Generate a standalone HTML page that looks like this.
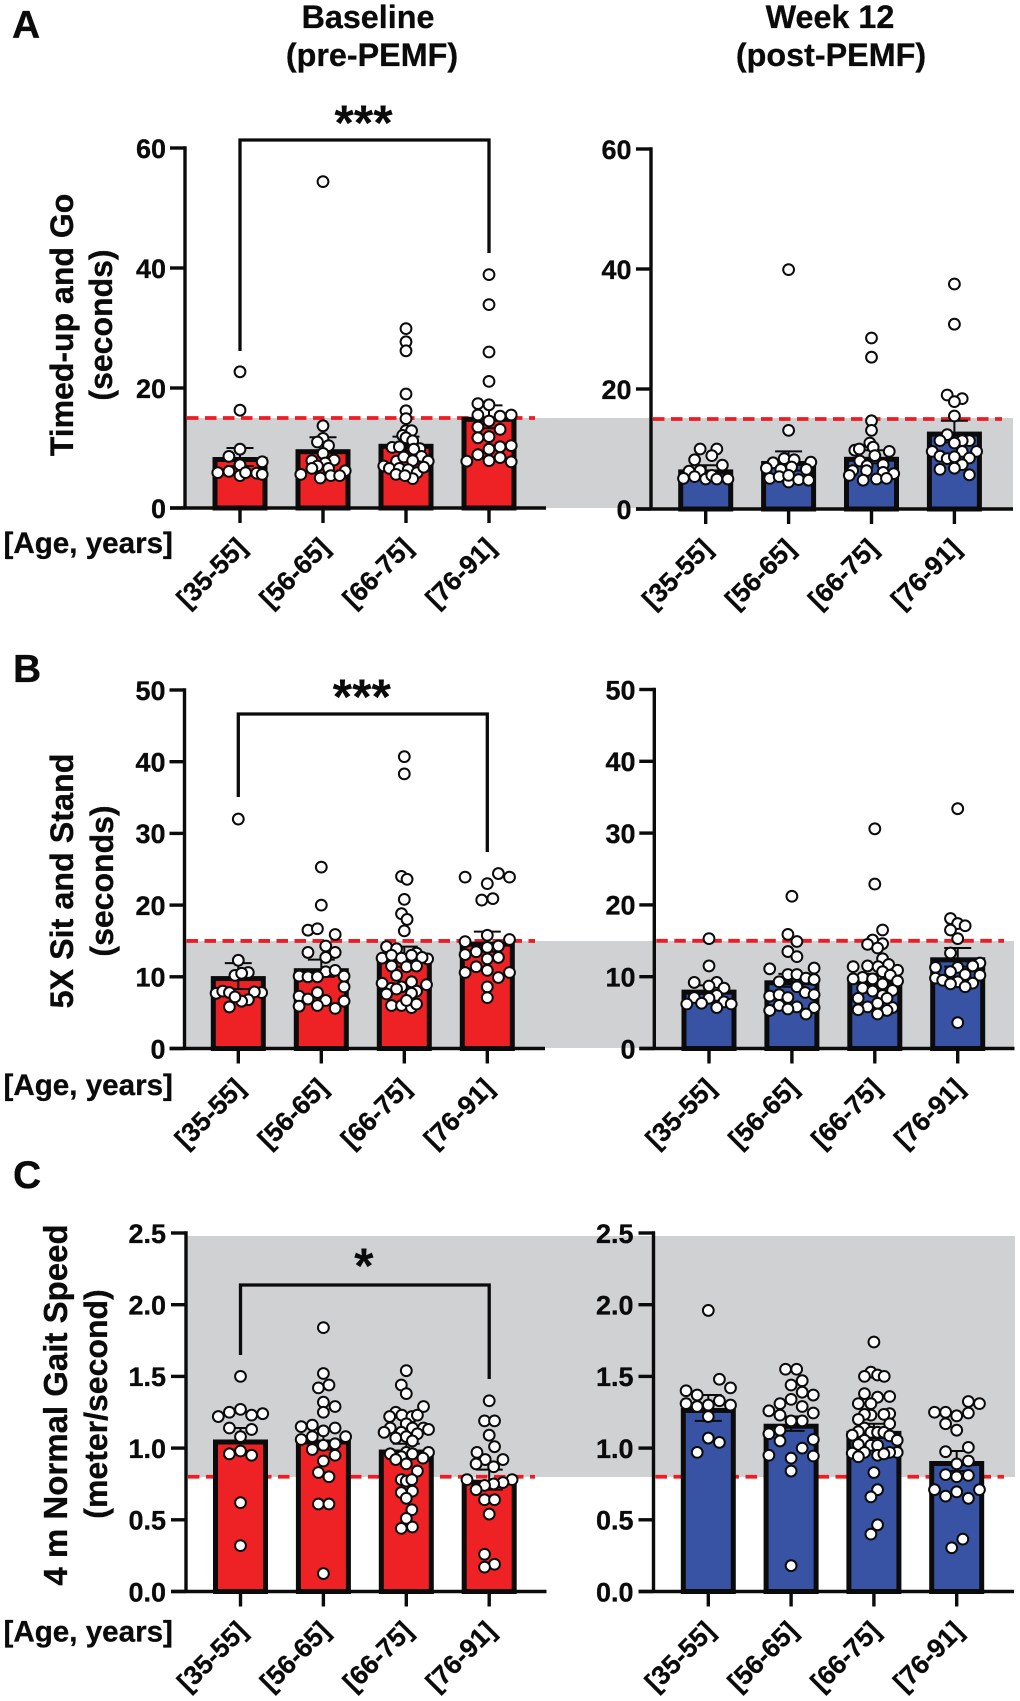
<!DOCTYPE html>
<html lang="en">
<head>
<meta charset="utf-8">
<title>Functional performance by age group, baseline and week 12</title>
<style>
html,body{margin:0;padding:0;background:#fff;}
svg{display:block;font-family:"Liberation Sans",Arial,sans-serif;font-weight:bold;fill:#0b0b0b;}
text{stroke:#0b0b0b;stroke-width:0.3px;}
</style>
</head>
<body>
<svg id="chart" xmlns="http://www.w3.org/2000/svg" width="1020" height="1701" viewBox="0 0 1020 1701">
  <rect x="0" y="0" width="1020" height="1701" fill="#fff"/>
  <rect x="186" y="418" width="827" height="90" fill="#d0d1d3"/>
  <rect x="186" y="941" width="828" height="107" fill="#d0d1d3"/>
  <rect x="186" y="1236" width="829" height="241" fill="#d0d1d3"/>
  <g id="plots"></g>
  <text x="12" y="38" font-size="39">A</text>
  <text x="13" y="682" font-size="39">B</text>
  <text x="13" y="1188" font-size="39">C</text>
  <text text-anchor="middle" font-size="32.3" x="368" y="28">Baseline</text>
  <text text-anchor="middle" font-size="32.3" x="372" y="66">(pre-PEMF)</text>
  <text text-anchor="middle" font-size="32.3" x="830" y="28">Week 12</text>
  <text text-anchor="middle" font-size="32.3" x="831" y="66">(post-PEMF)</text>
  <text text-anchor="middle" font-size="32" transform="translate(73,325) rotate(-90)">Timed-up and Go</text>
  <text text-anchor="middle" font-size="32" transform="translate(112,325) rotate(-90)">(seconds)</text>
  <text text-anchor="middle" font-size="32.3" transform="translate(73,881) rotate(-90)">5X Sit and Stand</text>
  <text text-anchor="middle" font-size="32" transform="translate(113,881) rotate(-90)">(seconds)</text>
  <text text-anchor="middle" font-size="33" transform="translate(67,1405) rotate(-90)">4 m Normal Gait Speed</text>
  <text text-anchor="middle" font-size="32" transform="translate(107,1404) rotate(-90)">(meter/second)</text>
  <text font-size="29.6" x="3.5" y="553">[Age, years]</text>
  <text font-size="29.6" x="3.5" y="1095">[Age, years]</text>
  <text font-size="29.6" x="3.5" y="1641.500">[Age, years]</text>
</svg>
<script>
const categories = ['[35-55]', '[56-65]', '[66-75]', '[76-91]'];

const secondsTicksA = [0, 20, 40, 60];
const secondsTicksB = [0, 10, 20, 30, 40, 50];
const speedTicks = [0, 0.5, 1, 1.5, 2, 2.5];

const tugBaseMeans = [8.5, 9.8, 10.7, 15.2];
const tugBaseSem = [1.5, 2.0, 1.2, 1.9];
const tugBaseValues = [
  [22.7,16.3,9.8,8.6,7.7,7.2,5.9,6.1,5.4,5.9,5.8,5.6],
  [54.4,13.7,11.6,11,10.4,9.1,7.9,8,7.5,7,6.6,6.6,5.6,6.2,5,5.4,5.4],
  [29.9,27.7,26.2,19,16.2,14.9,12.9,12.9,12.1,11.7,11.2,10.1,10.2,9.9,9.8,7,7.8,8.5,8.6,7.8,7.9,6.6,6.6,6.4,5.9,6.8,5.6,4.9,5.4],
  [38.9,33.9,26,21.1,17.4,17.2,15.5,15.3,15.5,14.5,13.5,13.1,11.7,11.9,10.2,10.4,9.8,8.9,8.4,7.8,7.9,7.7]
];
const tugBaseSlots = [
  [0,0,0,-1,2,0,-2,-1,0,0.5,1.5,2],
  [0,0,0,-0.5,0.5,0,-1,1,0.2,-0.5,-1,0.5,-2,2,-0.25,0.7,1.5],
  [0,0,0,0,0,0,0,0.5,-0.3,0,0.6,-1.25,-0.6,1.25,0.7,-2,-0.85,-0.2,1.4,2,0.6,-1.5,-0.6,0.2,1,1.6,-0.9,0.6,-0.1],
  [0,0,0,0,-1,0,-1,1,2,0,-1,1,-1,0,1,2,0,-1,1,-2,0,2]
];

const tugWeekMeans = [6.6, 8.0, 8.7, 12.9];
const tugWeekSem = [0.7, 1.6, 1.1, 1.8];
const tugWeekValues = [
  [10,10,8.9,8.2,7.3,6.3,6.4,5.1,5.4,5,5.6,5,5],
  [39.9,13.1,8.4,8.2,7.8,7.7,6.8,6.6,7,6.6,5.1,5.4,4.5,4.9,4.8,5.6],
  [28.5,25.3,14.7,13.1,11,10.3,9.8,10,9.6,8.9,8,7.2,7.4,6.4,6.4,6.1,5.6,5.9,4.8,5,5.1],
  [37.5,30.8,19,18.4,17.9,15.5,12.4,11.4,11.4,11.4,11,9.6,9.6,9.6,8.8,8.4,8.7,8.5,7.4,6.8,6.6,5.7]
];
const tugWeekSlots = [
  [-0.5,1,0.55,-1,1.5,-1.5,-0.5,-2,-1,0,0.55,1,2],
  [0,0,-0.4,0.5,2,-1.4,-2,-0.7,0.27,1.6,-1.7,-0.85,0,0.9,1.8,0],
  [0,0,0,0,-0.15,0.15,-1.5,-1.1,1.6,0.3,-1.05,-0.4,1.05,-1.7,-0.45,1.05,-2,2,-0.75,0.45,1.35],
  [0,0,-0.65,0.7,0,0,-0.65,-1.3,1.35,0.7,0,0.7,-2,2,-1.3,-0.65,0,1.35,0.7,0,-1.3,1.35]
];

const sitBaseMeans = [10.1, 11.2, 12.8, 14.9];
const sitBaseSem = [1.8, 1.2, 1.4, 1.4];
const sitBaseValues = [
  [32,12.3,10.6,10.2,10.5,7.7,8,7.8,7.8,7.9,6.8,6.6,7.2,5.8],
  [25.3,20,16.5,16.7,15.9,14.3,13.4,13.4,12.7,10.7,10.9,10.1,10,10,10.1,8.6,7.8,7.3,6.9,6.7,6.6,5.9,6,5.6],
  [40.7,38.3,24,23.6,20.8,18.8,18,16.4,14.2,13.9,13.3,12.5,12.6,13,12.6,13,12.7,11.5,11.4,11.5,10.2,9.1,8.9,9.3,8.6,8.4,8.3,8,7.7,7.6,6,6,5.7,6.2,6.7],
  [23.9,24.4,23.9,23,20.7,20.9,15.8,15.2,14.9,14.3,14.1,13.5,13.1,12.7,12.5,11.4,10.6,10.9,10.6,9.9,8.6,7.1]
];
const sitBaseSlots = [
  [0,0,0.9,-0.3,0.3,-2,-1.4,-0.8,2.1,1.45,0.9,0.3,-0.3,-0.8],
  [0,0,-1.2,-0.35,1.25,0.4,-1.2,1.25,0.4,0.4,1.25,-2,-1.2,-0.35,2.05,2.05,-0.35,-2,-1.2,0.4,2.05,-2,-0.35,1.25],
  [0,0,-0.25,0.25,0,-0.25,0.25,0,-1.6,-0.7,1.1,2.1,-2,-1.15,-0.25,0.65,1.6,-1.15,0.2,1.1,-0.7,-2,2,0.65,-0.25,-1.15,-0.7,1.1,0.65,-1.6,-1.15,-0.25,0.65,1.1,0.2],
  [-2,1,2,0,-0.5,0.5,0,2,-2,1,0,-1,-2,1,0,-1,-2,0,2,1,0,0]
];

const sitWeekMeans = [8.2, 9.5, 9.6, 12.7];
const sitWeekSem = [0.6, 0.9, 0.8, 1.3];
const sitWeekValues = [
  [15.3,11.5,9.2,9.2,8.7,8.4,7.4,7.1,7,6.5,6.3,6.2,6.2,5.7],
  [21.2,15.9,14.9,13.5,12.8,11.1,11.2,10.3,10.3,9.8,9.6,9.3,8.6,7.8,7.5,7.3,7.5,7.1,6,5.8,5.7,5.3,5.5,4.8],
  [30.6,22.9,16.5,15.1,14.5,14.6,14,12.5,11.7,11.4,11.5,11.4,10.9,10.7,10.2,9.9,9.7,9.7,9.4,9,8.4,8,8.1,7.4,7,7,6.3,5.8,5.4,5.7,5.3,4.8],
  [33.4,18.1,17.4,17.1,16.5,15.3,13.3,11.9,11.5,11.3,11.3,10.7,10.3,10.2,9.8,9.5,9.3,9.1,9,8.6,3.6]
];
const sitWeekSlots = [
  [0,0,-1.33,0.7,0,1.35,0.7,-1.33,0,1.35,-0.67,-2,2,0.7],
  [0,-0.36,0.45,-0.36,0.45,-2,2,-0.36,0.45,1.27,2,-1.15,0.45,1.2,2,-2,-1.15,-0.36,-1.15,0.45,2,-2,-0.36,1.27],
  [0,0,0.7,-0.2,-0.65,0.7,0.25,0.7,1.25,-1.95,-0.65,0.3,2.05,0.7,1.4,-1.1,-1.95,-0.2,2.05,0.7,-1.1,-0.2,1.6,0.7,-1.5,1.1,0.25,-0.65,-1.5,1.6,1.1,0.25],
  [0,-0.65,0,0.67,-0.65,0,-0.65,2,1.35,-2,0,-0.65,0.67,2,-2,-1.35,0,1.35,-0.65,0.67,0]
];

const gaitBaseMeans = [1.06, 1.06, 0.99, 0.78];
const gaitBaseSem = [0.08, 0.07, 0.04, 0.07];
const gaitBaseValues = [
  [1.5,1.22,1.25,1.27,1.23,1.24,1.14,1.13,1.08,0.98,0.96,0.95,0.62,0.32],
  [1.84,1.52,1.42,1.44,1.32,1.29,1.25,1.15,1.16,1.12,1.14,1.06,1.08,1.08,1.02,1.03,0.99,0.95,0.91,0.83,0.8,0.61,0.61,0.125],
  [1.54,1.44,1.38,1.29,1.25,1.23,1.22,1.22,1.23,1.17,1.14,1.14,1.14,1.13,1.11,1.11,1.1,1.07,1.08,1.05,0.96,0.97,0.96,0.97,0.94,0.93,0.92,0.89,0.84,0.78,0.77,0.78,0.69,0.7,0.65,0.57,0.51,0.44,0.45],
  [1.33,1.19,1.19,1.09,1.01,0.97,0.92,0.92,0.89,0.87,0.78,0.78,0.76,0.75,0.74,0.71,0.64,0.64,0.54,0.26,0.19,0.17]
];
const gaitBaseSlots = [
  [0,-2,-1,0,1,2,-1,1,0,0,-1,1,0,0],
  [0,0,-0.45,0.5,0,1.05,0,-2,-1,0,1.05,-2,-1,2,0,1.05,-1,1.05,0,-0.45,0.5,-0.45,0.5,0],
  [0,-0.45,0,1.55,-0.95,-0.4,-1.5,0.5,1,0,-1.45,0.55,1.55,2,-2,-0.45,1,-0.95,0,0.55,-1.45,0,0.55,2,-0.45,1.5,-0.95,0,1,-0.45,0,0.5,-0.45,0.55,0,0.5,0,-0.45,0.55],
  [0,-0.42,0.48,0,0.48,-1.1,-0.36,1.24,-1.18,0.4,-2,2.06,1.24,0.4,-0.42,-1.18,-0.42,0.48,0,-0.42,0.48,-0.42]
];

const gaitWeekMeans = [1.28, 1.17, 1.12, 0.91];
const gaitWeekSem = [0.09, 0.05, 0.05, 0.07];
const gaitWeekValues = [
  [1.96,1.48,1.42,1.4,1.37,1.33,1.31,1.3,1.3,1.29,1.22,1.07,1.04,0.97],
  [1.55,1.55,1.47,1.44,1.39,1.37,1.34,1.31,1.29,1.26,1.245,1.23,1.19,1.19,1.125,1.1,1.06,1.05,1,0.95,0.945,0.93,0.84,0.18],
  [1.74,1.53,1.5,1.51,1.5,1.38,1.355,1.36,1.31,1.31,1.24,1.23,1.235,1.235,1.2,1.17,1.14,1.115,1.11,1.11,1.11,1.09,1.085,1.055,1.055,1.025,1.02,1.02,0.97,0.97,0.97,0.965,0.94,0.95,0.96,0.83,0.71,0.66,0.465,0.4],
  [1.325,1.31,1.25,1.25,1.245,1.225,1.17,1.125,1.005,0.975,0.91,0.89,0.815,0.8,0.81,0.71,0.71,0.695,0.665,0.65,0.365,0.305]
];
const gaitWeekSlots = [
  [0,1,2,-2,-1,1,-2,2,0,-1,0,0,1,-1],
  [-0.5,0.5,1,0,1,2,0,-1,1,-2,2,-1,0,1,-1,-2,2,-1,1,-2,2,0,0,0],
  [0,-0.27,-0.85,0.33,0.93,-0.85,0.33,1.42,-1.4,-0.27,1.42,-0.27,-0.85,0.9,-1.4,1.42,-0.85,-1.4,-0.27,0.33,0.9,-1.95,1.42,2.1,-0.85,-1.4,-0.27,0.33,2.1,1.42,-0.85,-1.95,-1.4,0.33,0.9,0,0.33,-0.27,0.33,-0.27],
  [1.05,2.05,-2,-1,1.05,0,-1,0,1.05,-1,1.05,0,-1,0,1.05,-2,2.05,0,-1,1.05,0.55,-0.45]
];

const NS = 'http://www.w3.org/2000/svg';
const plots = document.getElementById('plots');
const RED = '#ee2224';
const BLUE = '#3953a4';
const SLOT_PX = 11.1;

function mk(tag, parent, attrs) {
  const e = document.createElementNS(NS, tag);
  for (const k in attrs) e.setAttribute(k, attrs[k]);
  parent.appendChild(e);
  return e;
}

function drawPanel(p) {
  const yScale = v => p.y0 - (v / p.max) * (p.y0 - p.yTop);
  const xScale = i => p.first + i * p.step;

  const g = mk('g', plots, {});
  
  

  const refLine = mk('line', g, {x1: p.axisX + 2, x2: p.refEnd, y1: yScale(p.ref), y2: yScale(p.ref), stroke: '#ee1c25', 'stroke-width': 3.8, 'stroke-dasharray': '11.5 6.5'});
  
  

  p.means.forEach((m, i) => {
    const bar = mk('rect', g, {x: xScale(i) - 25, y: yScale(m) + 2.5, width: 50, height: Math.max(0, p.y0 - yScale(m) - 2.5), fill: p.color, stroke: '#0b0b0b', 'stroke-width': 5});
    
    

    const hi = yScale(m + p.sem[i]);
    const lo = yScale(m - p.sem[i]);
    const err = mk('path', g, {d: 'M' + (xScale(i) - 13.500) + ' ' + hi + 'H' + (xScale(i) + 13.500) + 'M' + xScale(i) + ' ' + hi + 'V' + lo + 'M' + (xScale(i) - 13.500) + ' ' + lo + 'H' + (xScale(i) + 13.500), fill: 'none', stroke: '#0b0b0b', 'stroke-width': 2});
    
    
  });

  const axisY = mk('line', g, {x1: p.axisX, x2: p.axisX, y1: p.yTop - 1.7, y2: p.y0, stroke: '#0b0b0b', 'stroke-width': 3.4});
  
  

  const axisX = mk('line', g, {x1: p.axisX - 15, x2: p.axisEnd, y1: p.y0, y2: p.y0, stroke: '#0b0b0b', 'stroke-width': 3.4});
  
  

  p.ticks.forEach(t => {
    const tick = mk('line', g, {x1: p.axisX - 15, x2: p.axisX, y1: yScale(t), y2: yScale(t), stroke: '#0b0b0b', 'stroke-width': 3.4});
    
    
    const label = mk('text', g, {x: p.labelX, y: yScale(t) + 9.800, 'text-anchor': 'end', 'font-size': 27});
    
    
    label.textContent = p.format(t);
  });

  categories.forEach((c, i) => {
    const tick = mk('line', g, {x1: xScale(i), x2: xScale(i), y1: p.y0, y2: p.y0 + 15, stroke: '#0b0b0b', 'stroke-width': 3.4});
    
    
    const label = mk('text', g, {'text-anchor': 'end', 'font-size': 26.5, transform: 'translate(' + (xScale(i) + 8) + ',' + (p.y0 + 41) + ') rotate(-45)'});
    
    
    label.textContent = c;
  });

  p.values.forEach((group, i) => {
    group.forEach((v, j) => {
      const dot = mk('circle', g, {cx: xScale(i) + (p.slots[i][j] || 0) * SLOT_PX, cy: yScale(v), r: 5.4, fill: '#fff', stroke: '#0b0b0b', 'stroke-width': 2});
      
      
    });
  });

  if (p.bracket) {
    const b = p.bracket;
    const path = mk('path', g, {d: 'M' + xScale(0) + ' ' + b.leftEnd + 'V' + b.top + 'H' + xScale(3) + 'V' + b.rightEnd, fill: 'none', stroke: '#0b0b0b', 'stroke-width': 3.3});
    
    
    const stars = mk('text', g, {x: (xScale(0) + xScale(3)) / 2 - 1, y: b.starY, 'text-anchor': 'middle', 'font-size': 50, style: 'stroke-width:0'});
    
    
    stars.textContent = b.stars;
  }
}

const intFmt = t => String(t);
const decFmt = t => t.toFixed(1);

drawPanel({id: 'tug-baseline', axisX: 185, y0: 508, yTop: 148, max: 60, first: 240, step: 83, axisEnd: 546, refEnd: 535, ref: 15, labelX: 166, ticks: secondsTicksA, format: intFmt, color: RED, means: tugBaseMeans, sem: tugBaseSem, values: tugBaseValues, slots: tugBaseSlots, bracket: {top: 140, leftEnd: 351, rightEnd: 253, starY: 140, stars: '***'}});
drawPanel({id: 'tug-week12', axisX: 651, y0: 509, yTop: 149, max: 60, first: 705.700, step: 82.900, axisEnd: 1013, refEnd: 1002, ref: 15, labelX: 631.500, ticks: secondsTicksA, format: intFmt, color: BLUE, means: tugWeekMeans, sem: tugWeekSem, values: tugWeekValues, slots: tugWeekSlots});
drawPanel({id: 'sit-baseline', axisX: 184.500, y0: 1048.500, yTop: 690, max: 50, first: 238.300, step: 83, axisEnd: 545, refEnd: 535, ref: 15, labelX: 165.500, ticks: secondsTicksB, format: intFmt, color: RED, means: sitBaseMeans, sem: sitBaseSem, values: sitBaseValues, slots: sitBaseSlots, bracket: {top: 714, leftEnd: 797, rightEnd: 852, starY: 714, stars: '***'}});
drawPanel({id: 'sit-week12', axisX: 654.300, y0: 1048.500, yTop: 689.500, max: 50, first: 709, step: 82.900, axisEnd: 1014.500, refEnd: 1004, ref: 15, labelX: 635.500, ticks: secondsTicksB, format: intFmt, color: BLUE, means: sitWeekMeans, sem: sitWeekSem, values: sitWeekValues, slots: sitWeekSlots});
drawPanel({id: 'gait-baseline', axisX: 186, y0: 1591.500, yTop: 1233, max: 2.5, first: 240.500, step: 82.900, axisEnd: 546.500, refEnd: 535, ref: 0.8, labelX: 166, ticks: speedTicks, format: decFmt, color: RED, means: gaitBaseMeans, sem: gaitBaseSem, values: gaitBaseValues, slots: gaitBaseSlots, bracket: {top: 1285, leftEnd: 1355, rightEnd: 1379, starY: 1283, stars: '*'}});
drawPanel({id: 'gait-week12', axisX: 653.500, y0: 1591.500, yTop: 1233, max: 2.5, first: 708.300, step: 82.800, axisEnd: 1014, refEnd: 1004, ref: 0.8, labelX: 633.500, ticks: speedTicks, format: decFmt, color: BLUE, means: gaitWeekMeans, sem: gaitWeekSem, values: gaitWeekValues, slots: gaitWeekSlots});
</script>
</body>
</html>
